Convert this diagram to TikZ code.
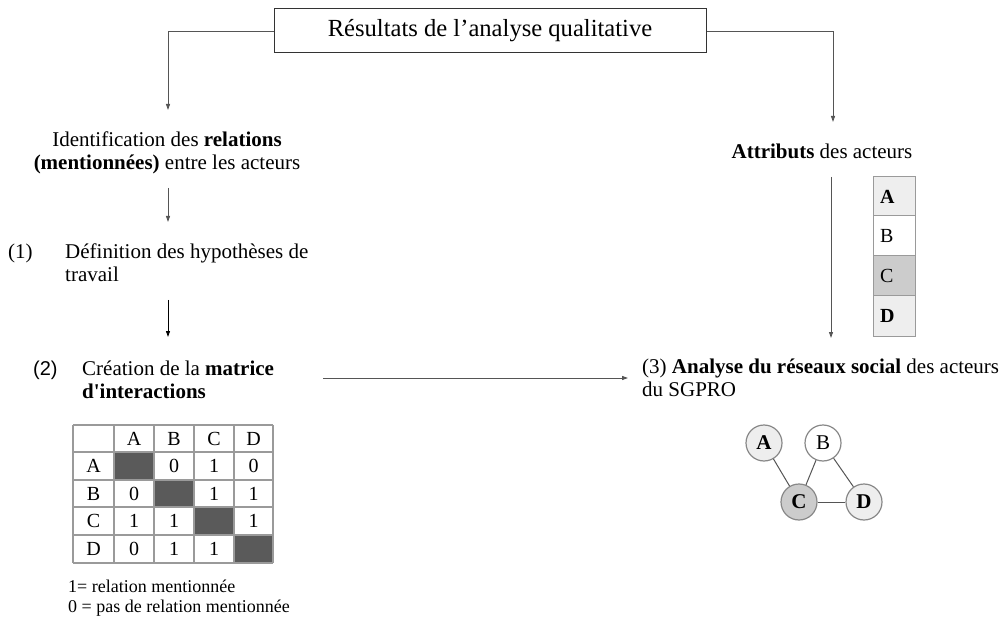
\documentclass[tikz,border=0pt]{standalone}
\usepackage{fontspec}
\setmainfont{Liberation Serif}[Ligatures=TeXOff]
\newfontfamily\arialfont{Liberation Sans}
\usetikzlibrary{arrows.meta}
\definecolor{lin}{HTML}{555555}
\definecolor{boxline}{HTML}{333333}
\definecolor{grid}{HTML}{9A9A9A}
\definecolor{dark}{HTML}{5A5A5A}
\definecolor{light}{HTML}{EEEEEE}
\definecolor{mid}{HTML}{CCCCCC}
\definecolor{circ}{HTML}{888888}
\tikzset{
  arr/.style={draw=lin, line width=0.9pt, -{Triangle[length=6pt,width=4pt]}},
  txt/.style={inner sep=0pt, anchor=base west, align=left, font=\fontsize{21}{23}\selectfont},
  ctxt/.style={inner sep=0pt, anchor=base, align=center, font=\fontsize{21}{23}\selectfont},
  cell/.style={inner sep=0pt, font=\fontsize{20}{22}\selectfont},
  acell/.style={draw=grid, line width=1pt},
  gnode/.style={circle, draw=circ, line width=1.2pt, minimum size=36pt, inner sep=0pt, font=\fontsize{21}{22}\selectfont},
  gedge/.style={draw=lin, line width=1pt},
}
\begin{document}
\begin{tikzpicture}[x=1pt,y=-1pt]
\useasboundingbox[fill=white] (0,0) rectangle (1003,617);

% title
\node[draw=boxline, line width=1pt, minimum width=432pt, minimum height=44pt, inner sep=0pt,
      font=\fontsize{24.6}{26}\selectfont] (title) at (490,31) {Résultats de l’analyse qualitative};

% left column texts (base anchor = last line's baseline)
\node[ctxt] (ident) at (167,170) {Identification des \textbf{relations}\\\textbf{(mentionnées)} entre les acteurs};
\node[txt] (n1) at (8,259) {(1)};
\node[txt] (def) at (65,282) {Définition des hypothèses de\\travail};
\node[inner sep=0pt, anchor=base west, font=\arialfont\fontsize{20}{22}\selectfont] (n2) at (33,375) {(2)};
\node[txt] (crea) at (82,398) {Création de la \textbf{matrice}\\\textbf{d'interactions}};

% right column texts
\node[ctxt] (attr) at (822,159) {\textbf{Attributs} des acteurs};
\node[txt] (anal) at (642,396) {(3) \textbf{Analyse du réseaux social} des acteurs\\du SGPRO};

% connectors
\coordinate (tl) at (168,110);
\coordinate (tr) at (833,122);
\draw[arr] (title.west) -| (tl);
\draw[arr] (title.east) -| (tr);
\coordinate (a1s) at (168,188);
\coordinate (a1e) at (168,222);
\draw[arr] (a1s) -- (a1e);
\coordinate (a2s) at (168,300);
\coordinate (a2e) at (168,337);
\draw[arr, draw=black, line width=1pt] (a2s) -- (a2e);
\coordinate (a3s) at (323,378);
\coordinate (a3e) at (628,378);
\draw[arr] (a3s) -- (a3e);
\coordinate (a4s) at (831,177);
\coordinate (a4e) at (831,338);
\draw[arr] (a4s) -- (a4e);

% attribute table
\path[acell, fill=light] (873,177) rectangle (915,216);
\path[acell, fill=white] (873,216) rectangle (915,256);
\path[acell, fill=mid] (873,256) rectangle (915,296);
\path[acell, fill=light] (873,296) rectangle (915,336);
\node[cell, anchor=west] (ta) at (880,196.5) {\textbf{A}};
\node[cell, anchor=west] (tb) at (880,236) {B};
\node[cell, anchor=west] (tc) at (880,276) {C};
\node[cell, anchor=west] (td) at (880,316) {\textbf{D}};

% matrix
\fill[dark] (114,452) rectangle (154,480);
\fill[dark] (154,480) rectangle (194,507);
\fill[dark] (194,507) rectangle (234,535);
\fill[dark] (234,535) rectangle (273,563);
\foreach \x in {73,114,154,194,234,273} \draw[grid, line width=1.3pt] (\x,425) -- (\x,563);
\foreach \y in {425,452,480,507,535,563} \draw[grid, line width=1.3pt] (73,\y) -- (273,\y);
\node[cell] (hA) at (134,438.5) {A};
\node[cell] (hB) at (174,438.5) {B};
\node[cell] (hC) at (214,438.5) {C};
\node[cell] (hD) at (253.5,438.5) {D};
\node[cell] (rA) at (93.5,466) {A};
\node[cell] (rB) at (93.5,493.5) {B};
\node[cell] (rC) at (93.5,521) {C};
\node[cell] (rD) at (93.5,549) {D};
\node[cell] (m12) at (174,466) {0};
\node[cell] (m13) at (214,466) {1};
\node[cell] (m14) at (253.5,466) {0};
\node[cell] (m21) at (134,493.5) {0};
\node[cell] (m23) at (214,493.5) {1};
\node[cell] (m24) at (253.5,493.5) {1};
\node[cell] (m31) at (134,521) {1};
\node[cell] (m32) at (174,521) {1};
\node[cell] (m34) at (253.5,521) {1};
\node[cell] (m41) at (134,549) {0};
\node[cell] (m42) at (174,549) {1};
\node[cell] (m43) at (214,549) {1};

% legend
\node[inner sep=0pt, anchor=base west, align=left, font=\fontsize{18}{20}\selectfont] (leg) at (68,612)
  {1= relation mentionnée\\0 = pas de relation mentionnée};

% graph
\node[gnode, fill=light] (gA) at (764,443) {\textbf{A}};
\node[gnode, fill=white] (gB) at (823,443) {B};
\node[gnode, fill=mid] (gC) at (799,502) {\textbf{C}};
\node[gnode, fill=light] (gD) at (864,502) {\textbf{D}};
\draw[gedge] (gA) -- (gC);
\draw[gedge] (gB) -- (gC);
\draw[gedge] (gB) -- (gD);
\draw[gedge] (gC) -- (gD);
\end{tikzpicture}
\end{document}
